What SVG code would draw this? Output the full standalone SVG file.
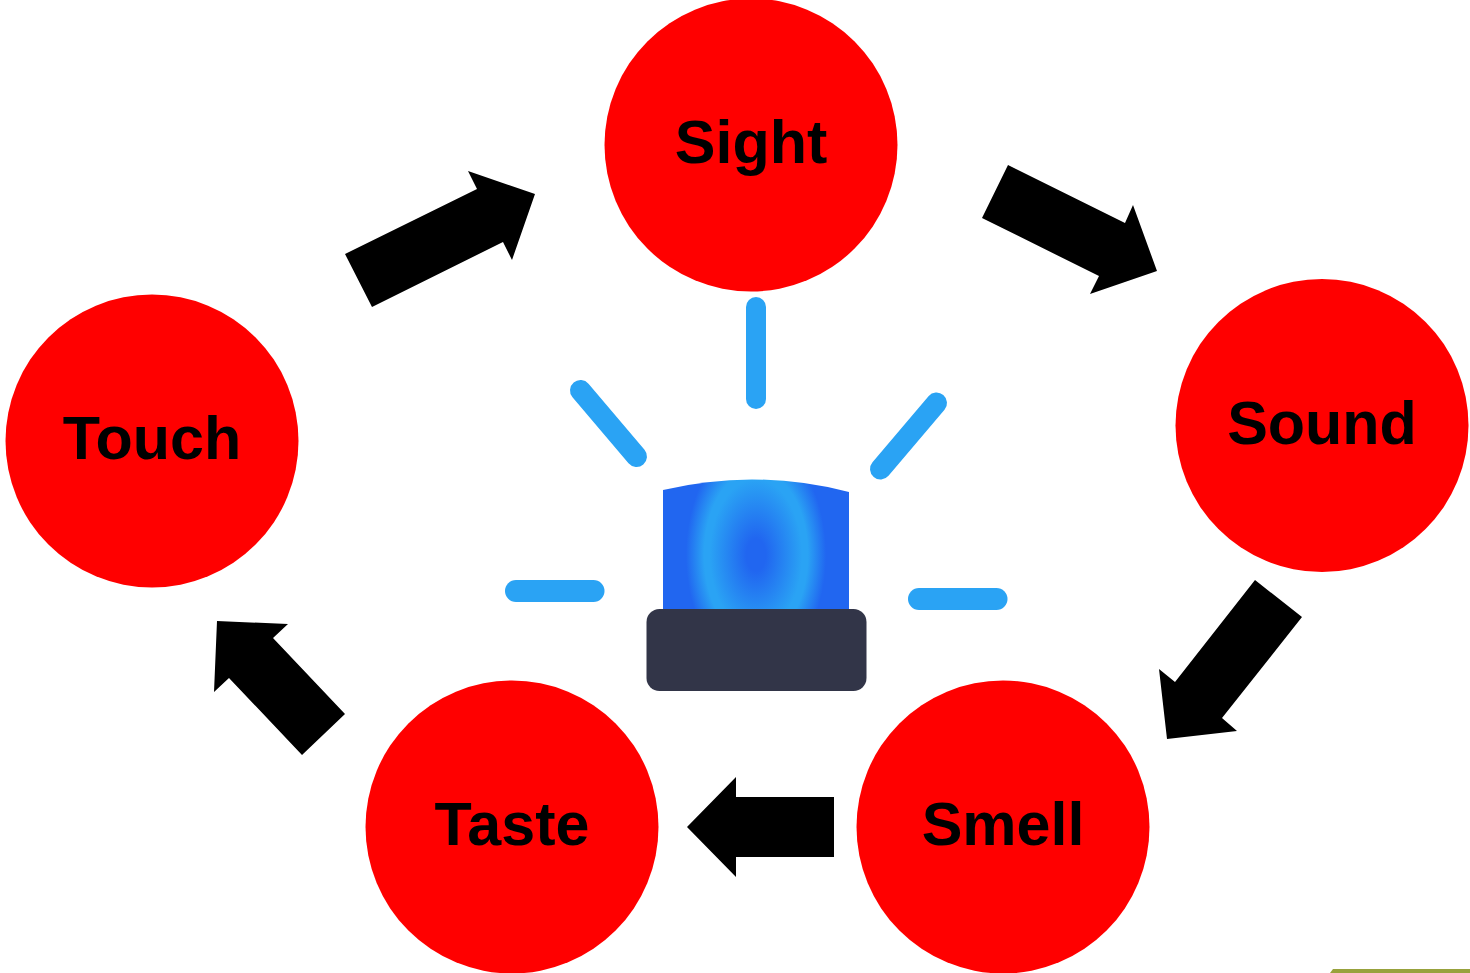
<svg xmlns="http://www.w3.org/2000/svg" width="1470" height="973" viewBox="0 0 1470 973">
<style>
.c{fill:#ff0000}
.t{font-family:"Liberation Sans",Arial,sans-serif;font-weight:bold;font-size:61px;fill:#000;text-anchor:middle}
.a{fill:#000}
.r{fill:#2aa3f4}
</style>
<defs>
<radialGradient id="lens" gradientUnits="userSpaceOnUse" cx="0" cy="0" r="1" gradientTransform="translate(756 555) scale(70 115)">
<stop offset="0" stop-color="#2166f0"/>
<stop offset="0.14" stop-color="#2166f0"/>
<stop offset="0.66" stop-color="#2aa3f4"/>
<stop offset="0.74" stop-color="#2aa3f4"/>
<stop offset="1" stop-color="#2166f0"/>
</radialGradient>
</defs>
<rect width="1470" height="973" fill="#fff"/>
<g id="node-sight"><circle class="c" cx="751" cy="145" r="146.500"/><text class="t" x="751" y="163">Sight</text></g>
<g id="node-sound"><circle class="c" cx="1322" cy="425.500" r="146.500"/><text class="t" x="1322" y="444">Sound</text></g>
<g id="node-smell"><circle class="c" cx="1003" cy="827" r="146.500"/><text class="t" x="1003" y="845">Smell</text></g>
<g id="node-taste"><circle class="c" cx="512" cy="827" r="146.500"/><text class="t" x="512" y="845">Taste</text></g>
<g id="node-touch"><circle class="c" cx="152" cy="441" r="146.500"/><text class="t" x="152" y="459">Touch</text></g>
<g id="connectors">
<polygon class="a" points="345,254 477,189 468,171 535,194 512,260 503,242 372,307"/>
<polygon class="a" points="1008,165 1125,223 1133,205 1157,271 1090,294 1099,276 982,218"/>
<polygon class="a" points="1255,580 1302,617 1222,718 1237,731 1167,739 1159,669 1175,682"/>
<polygon class="a" points="834,797 736,797 736,777 687,827 736,877 736,857 834,857"/>
<polygon class="a" points="345,714 302,755 229,678 214,692 217,621 288,624 273,638"/>
</g>
<g id="beacon">
<path d="M663 490Q756 468 849 492V612H663Z" fill="url(#lens)"/>
<rect x="646.500" y="609" width="220" height="82" rx="13" fill="#323548"/>
<rect class="r" x="746" y="297" width="20" height="112" rx="10"/>
<line x1="580.500" y1="390.500" x2="636.500" y2="456.500" stroke="#2aa3f4" stroke-width="21" stroke-linecap="round"/>
<line x1="936.500" y1="403" x2="880.500" y2="469" stroke="#2aa3f4" stroke-width="21" stroke-linecap="round"/>
<rect class="r" x="505" y="580" width="99.500" height="22" rx="11"/>
<rect class="r" x="908" y="588" width="99.500" height="22" rx="11"/>
</g>
<path d="M1330 973l3-4H1470V973Z" fill="#98a23c"/>
</svg>
